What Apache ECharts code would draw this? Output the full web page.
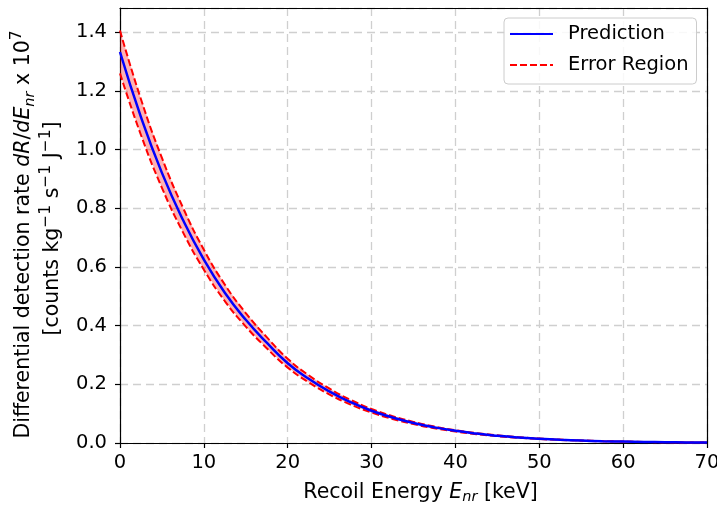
<!DOCTYPE html>
<html>
<head>
<meta charset="utf-8">
<script src="https://cdn.jsdelivr.net/npm/echarts@6/dist/echarts.min.js"></script>
<style>html,body{margin:0;padding:0;background:#fff;}#c{width:717px;height:505px;}</style>
</head>
<body>
<div id="c"></div>
<script>
const energy = [0,2.5,5,7.5,10,12.5,15,17.5,20,22.5,25,27.5,30,32.5,35,37.5,40,42.5,45,47.5,50,52.5,55,57.5,60,62.5,65,67.5,70];
const prediction = [1.333,1.111,0.921,0.761,0.625,0.512,0.420,0.342,0.272,0.219,0.175,0.139,0.110,0.0869,0.0682,0.0532,0.0414,0.0320,0.0247,0.0189,0.0145,0.0110,0.0083,0.0062,0.0047,0.0035,0.0026,0.0019,0.0014];
const upper = [1.406,1.172,0.972,0.803,0.659,0.540,0.443,0.361,0.287,0.231,0.185,0.147,0.116,0.0917,0.0720,0.0561,0.0437,0.0338,0.0261,0.0199,0.0153,0.0116,0.0088,0.0065,0.0050,0.0037,0.0027,0.0020,0.0015];
const lower = [1.260,1.050,0.870,0.719,0.591,0.484,0.397,0.323,0.257,0.207,0.165,0.131,0.104,0.0821,0.0644,0.0503,0.0391,0.0302,0.0233,0.0179,0.0137,0.0104,0.0078,0.0059,0.0044,0.0033,0.0025,0.0018,0.0013];
const seriesNames = ['Prediction', 'Error Region'];

const pairs = ys => energy.map((e, i) => [e, ys[i]]);
const FONT = 'DejaVu Sans';
const chart = echarts.init(document.getElementById('c'), null, {renderer: 'canvas'});
const gridLine = {show: true, lineStyle: {color: '#cfcfcf', type: [8, 5], width: 1.3}};
const frameAxis = {
  axisLine: {show: true, onZero: false, lineStyle: {color: '#000', width: 1.2}},
  axisTick: {show: false}, axisLabel: {show: false}, splitLine: {show: false}, z: 3
};
chart.setOption({
  animation: false,
  backgroundColor: '#fff',
  textStyle: {fontFamily: FONT},
  grid: {left: 120, right: 10, top: 8, bottom: 62, containLabel: false, outerBoundsMode: 'none'},
  legend: {
    data: seriesNames,
    orient: 'vertical',
    left: 504, top: 18, z: 20,
    padding: [5, 8, 8, 5],
    itemWidth: 43, itemHeight: 14, itemGap: 9,
    itemStyle: {opacity: 0},
    borderColor: '#cccccc', borderWidth: 1, borderRadius: 4,
    backgroundColor: 'rgba(255,255,255,0.85)',
    textStyle: {fontFamily: FONT, fontSize: 19.5, color: '#000', lineHeight: 22, padding: [0, 0, 0, 10]}
  },
  xAxis: [{
    type: 'value', min: 0, max: 70, interval: 10,
    name: '{t0|Recoil Energy }{i|E}{s|nr}{t| [keV]}',
    nameLocation: 'middle', nameGap: 37,
    nameTextStyle: {
      rich: {
        t0: {fontFamily: FONT, fontSize: 20.5, color: '#000', lineHeight: 25, padding: [0, 0, 0, 14]},
        t: {fontFamily: FONT, fontSize: 20.5, color: '#000', lineHeight: 25},
        i: {fontFamily: FONT, fontSize: 20.5, fontStyle: 'italic', color: '#000', lineHeight: 25},
        s: {fontFamily: FONT, fontSize: 14.5, fontStyle: 'italic', color: '#000', lineHeight: 18, verticalAlign: 'bottom'}
      }
    },
    axisLine: {show: true, onZero: false, lineStyle: {color: '#000', width: 1.2}},
    axisTick: {show: true, length: 5, lineStyle: {color: '#000', width: 1.2}},
    axisLabel: {fontFamily: FONT, fontSize: 19.5, color: '#000', margin: 10, formatter: v => String(v)},
    splitLine: gridLine
  }, Object.assign({type: 'value', position: 'top', min: 0, max: 70}, frameAxis)],
  yAxis: [{
    type: 'value', min: 0, max: 1.483, interval: 0.2,
    name: '{t|Differential detection rate }{i|dR}{t|/}{i|dE}{s|nr}{t| x 10}{pe|7}\n{t|[counts kg}{p|−1}{t| s}{p|−1}{t| J}{p|−1}{te|]}',
    nameLocation: 'middle', nameRotate: 90, nameGap: 53,
    nameTextStyle: {
      rich: {
        t: {fontFamily: FONT, fontSize: 20.5, color: '#000', lineHeight: 29},
        te: {fontFamily: FONT, fontSize: 20.5, color: '#000', lineHeight: 29, padding: [0, 6, 0, 0]},
        i: {fontFamily: FONT, fontSize: 20.5, fontStyle: 'italic', color: '#000', lineHeight: 29},
        s: {fontFamily: FONT, fontSize: 14.5, fontStyle: 'italic', color: '#000', lineHeight: 20, verticalAlign: 'bottom'},
        p: {fontFamily: FONT, fontSize: 15.5, color: '#000', lineHeight: 17, verticalAlign: 'top'},
        pe: {fontFamily: FONT, fontSize: 15.5, color: '#000', lineHeight: 17, verticalAlign: 'top', padding: [0, 18, 0, 0]}
      }
    },
    axisLine: {show: true, onZero: false, lineStyle: {color: '#000', width: 1.2}},
    axisTick: {show: true, length: 5, lineStyle: {color: '#000', width: 1.2}},
    axisLabel: {fontFamily: FONT, fontSize: 19.5, color: '#000', margin: 13, showMaxLabel: false, formatter: v => v.toFixed(1)},
    splitLine: gridLine
  }, Object.assign({type: 'value', position: 'right', min: 0, max: 1.483}, frameAxis)],
  series: [
    {type: 'custom', name: 'band', data: [0], silent: true, z: 1, clip: true,
     renderItem: (params, api) => {
       const pts = [];
       for (let i = 0; i < energy.length; i++) pts.push(api.coord([energy[i], upper[i]]));
       for (let i = energy.length - 1; i >= 0; i--) pts.push(api.coord([energy[i], lower[i]]));
       return {type: 'polygon', shape: {points: pts}, style: {fill: 'rgba(255,0,0,0.3)', stroke: 'none'}};
     }},
    {type: 'line', name: seriesNames[1], data: pairs(upper), symbol: 'none', smooth: true, z: 3,
     lineStyle: {color: '#ff0000', width: 2, type: [7, 3]}, itemStyle: {color: '#ff0000'}},
    {type: 'line', name: seriesNames[1], data: pairs(lower), symbol: 'none', smooth: true, z: 3,
     lineStyle: {color: '#ff0000', width: 2, type: [7, 3]}, itemStyle: {color: '#ff0000'}},
    {type: 'line', name: seriesNames[0], data: pairs(prediction), symbol: 'none', smooth: true, z: 5,
     lineStyle: {color: '#0000ff', width: 2.5}, itemStyle: {color: '#0000ff'}}
  ]
});
</script>
</body>
</html>
